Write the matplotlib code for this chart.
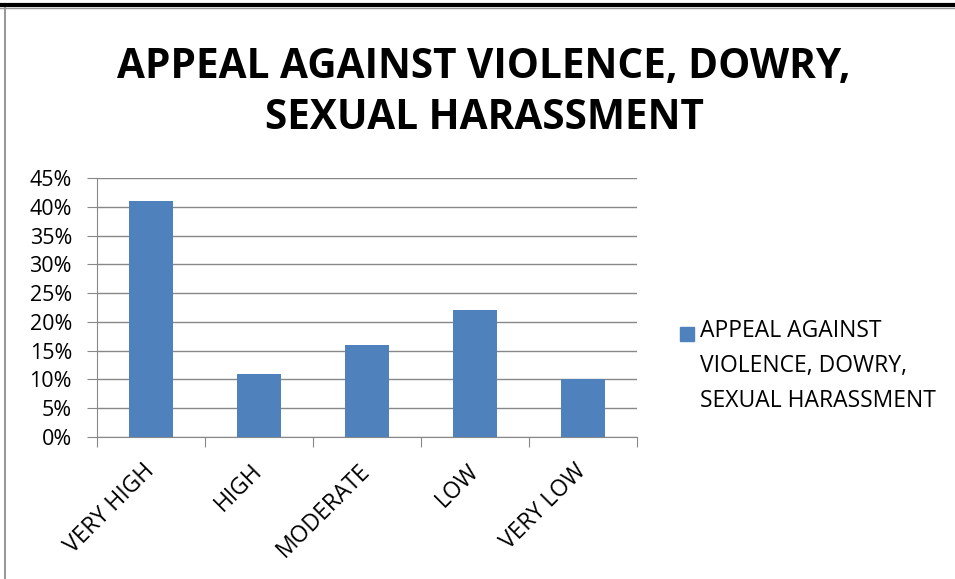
import matplotlib.pyplot as plt
from matplotlib.lines import Line2D
from matplotlib.patches import Rectangle
from matplotlib.ticker import PercentFormatter
from matplotlib.transforms import ScaledTranslation

categories = ['VERY HIGH', 'HIGH', 'MODERATE', 'LOW', 'VERY LOW']
values = [41, 11, 16, 22, 10]
series_name = 'APPEAL AGAINST\nVIOLENCE, DOWRY,\nSEXUAL HARASSMENT'
title = 'APPEAL AGAINST VIOLENCE, DOWRY,\nSEXUAL HARASSMENT'

plt.rcParams['font.family'] = ['Open Sans', 'DejaVu Sans']

W, H = 955, 579
fig = plt.figure(figsize=(W / 100, H / 100), dpi=100)
ax = fig.add_axes([97 / W, 1 - 437 / H, 540 / W, 259 / H])

bar_color = '#4F81BD'
x = range(len(categories))
ax.bar(x, values, width=0.4, color=bar_color, zorder=3)

ax.set_xlim(-0.5, len(categories) - 0.5)
ax.set_ylim(0, 45)
ax.set_yticks(range(0, 50, 5))
ax.yaxis.set_major_formatter(PercentFormatter(decimals=0))
ax.grid(axis='y', color='#888888', linewidth=1, zorder=0)

# category labels between boundary ticks
ax.set_xticks([i - 0.5 for i in range(len(categories) + 1)])
ax.set_xticklabels([])
ax.set_xticks(list(x), minor=True)
ax.set_xticklabels(categories, minor=True, rotation=45, ha='right', va='center',
                   rotation_mode='anchor', fontsize=16.5)
ax.tick_params(axis='x', which='minor', length=0, pad=22)
ax.tick_params(axis='x', which='major', length=7, color='#888888')
ax.tick_params(axis='y', length=7, color='#888888', labelsize=15.5, pad=11)
shift = ScaledTranslation(0.0, 0, fig.dpi_scale_trans)
for lab in ax.get_xticklabels(minor=True):
    lab.set_transform(lab.get_transform() + shift)

for s in ['top', 'right']:
    ax.spines[s].set_visible(False)
for s in ['left', 'bottom']:
    ax.spines[s].set_color('#888888')

fig.text(0.507, 1 - 93 / H, title, ha='center', va='center', fontsize=29.2,
         fontweight='bold', linespacing=1.33)

# legend
fig.add_artist(Rectangle((680 / W, 1 - 341 / H), 14 / W, 14 / H,
                         transform=fig.transFigure, color=bar_color))
fig.text(700 / W, 1 - 366 / H, series_name, ha='left', va='center',
         fontsize=16.5, linespacing=1.63)

# page frame
fig.add_artist(Line2D([0, 1], [1 - 5 / H, 1 - 5 / H], color='black', linewidth=3))
fig.add_artist(Line2D([0, 1], [1 - 8 / H, 1 - 8 / H], color='#999999', linewidth=1))
fig.add_artist(Line2D([5 / W, 5 / W], [0, 1 - 8 / H], color='#999999', linewidth=1.5))

fig.savefig('out.png', dpi=100)
